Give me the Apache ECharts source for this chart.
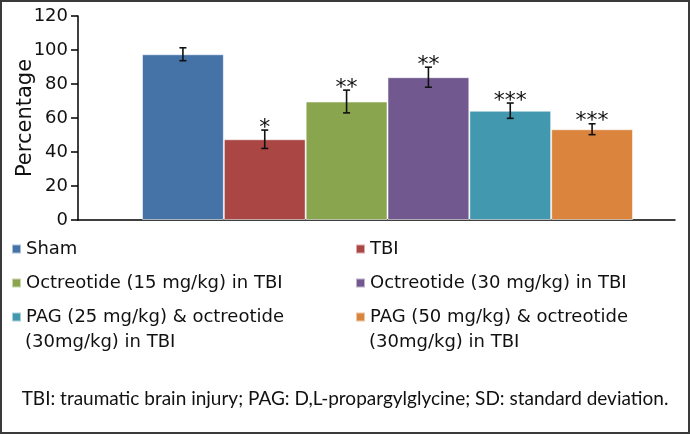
<!DOCTYPE html>
<html>
<head>
<meta charset="utf-8">
<script src="https://cdn.jsdelivr.net/npm/echarts@6/dist/echarts.min.js"></script>
<style>
  html, body { margin: 0; padding: 0; background: #fff; }
  #main { width: 690px; height: 434px; }
</style>
</head>
<body>
<div id="main"></div>
<script>
// groups, in the order the bars are drawn
var groups = [
  'Sham',
  'TBI',
  'Octreotide (15 mg/kg) in TBI',
  'Octreotide (30 mg/kg) in TBI',
  'PAG (25 mg/kg) & octreotide (30mg/kg) in TBI',
  'PAG (50 mg/kg) & octreotide (30mg/kg) in TBI'
];
// legend text is split on two lines for the long names
var legendLine1 = ['Sham', 'TBI', 'Octreotide (15 mg/kg) in TBI', 'Octreotide (30 mg/kg) in TBI',
  'PAG (25 mg/kg) & octreotide', 'PAG (50 mg/kg) & octreotide'];
var legendLine2 = ['', '', '', '', '(30mg/kg) in TBI', '(30mg/kg) in TBI'];
var means = [97.5, 47.5, 69.7, 84, 64.3, 53.4];
var sd = [3.8, 5.4, 6.7, 5.9, 4.5, 3.2];
var marks = ['', '*', '**', '**', '***', '***'];
var colors = ['#4572A7', '#AA4643', '#89A54E', '#71588F', '#4198AF', '#DB843D'];
var yMin = 0, yMax = 120, yStep = 20;
var footNote = 'TBI: traumatic brain injury; PAG: D,L-propargylglycine; SD: standard deviation.';

var font = 'DejaVu Sans';
var ink = '#111';
var myChart = echarts.init(document.getElementById('main'));

var series = groups.map(function (g, i) {
  return {
    name: g,
    type: 'bar',
    xAxisIndex: 1,
    yAxisIndex: 1,
    stack: 'one',
    barWidth: '100%',
    itemStyle: { color: colors[i], borderColor: 'rgba(255,255,255,0.55)', borderWidth: 1 },
    data: groups.map(function (x, j) { return j === i ? means[i] : '-'; })
  };
});

// error bars + significance stars
series.push({
  type: 'custom',
  xAxisIndex: 1,
  yAxisIndex: 1,
  z: 5,
  data: means.map(function (m, i) { return [i, m, sd[i]]; }),
  renderItem: function (params, api) {
    var i = api.value(0), m = api.value(1), s = api.value(2);
    var top = api.coord([i, m + s]);
    var bot = api.coord([i, m - s]);
    var x = top[0], w = 3.5;
    var st = { stroke: '#111', lineWidth: 1.6 };
    var kids = [
      { type: 'line', shape: { x1: x, y1: top[1], x2: x, y2: bot[1] }, style: st },
      { type: 'line', shape: { x1: x - w, y1: top[1], x2: x + w, y2: top[1] }, style: st },
      { type: 'line', shape: { x1: x - w, y1: bot[1], x2: x + w, y2: bot[1] }, style: st }
    ];
    if (marks[i]) {
      kids.push({
        type: 'text',
        style: {
          text: marks[i], x: x, y: top[1] + 9,
          align: 'center', verticalAlign: 'bottom',
          font: '22px "' + font + '"', fill: ink
        }
      });
    }
    return { type: 'group', children: kids };
  }
});

var colX = [11, 355];
var rowY = [239, 273, 307];
var legends = groups.map(function (g, i) {
  return {
    data: [g],
    left: colX[i % 2],
    top: rowY[Math.floor(i / 2)],
    icon: 'rect',
    itemWidth: 9,
    itemHeight: 9,
    selectedMode: false,
    padding: 0,
    formatter: function () { return legendLine1[i]; },
    textStyle: { fontFamily: font, fontSize: 18, lineHeight: 20, color: ink }
  };
});

var graphics = [
  { type: 'rect', shape: { x: 1, y: 1, width: 688, height: 432 },
    style: { fill: 'none', stroke: '#3a3a3a', lineWidth: 2 }, z: 100 },
  { type: 'text', left: 'center', top: 389,
    style: { text: footNote, font: '19px Lato', fill: ink } }
];
legendLine2.forEach(function (t, i) {
  if (!t) return;
  graphics.push({
    type: 'text', x: colX[i % 2] + 14, y: 342,
    style: { text: t, font: '18px "' + font + '"', fill: ink, verticalAlign: 'middle' }
  });
});

myChart.setOption({
  animation: false,
  grid: [
    { left: 78, right: 15, top: 16, bottom: 214 },
    { left: 142, right: 57, top: 16, bottom: 214 }
  ],
  xAxis: [
    { type: 'category', gridIndex: 0, data: [''],
      axisLine: { lineStyle: { color: '#000', width: 1.5 } },
      axisTick: { show: false }, axisLabel: { show: false } },
    { type: 'category', gridIndex: 1, data: groups, show: false }
  ],
  yAxis: [
    { type: 'value', gridIndex: 0, min: yMin, max: yMax, interval: yStep,
      name: 'Percentage', nameLocation: 'middle', nameGap: 42, nameMoveOverlap: false,
      nameTextStyle: { fontFamily: font, fontSize: 21, color: ink },
      axisLine: { show: true, lineStyle: { color: '#000', width: 1.5 } },
      axisTick: { show: true, length: 7, lineStyle: { color: '#000', width: 1.5 } },
      axisLabel: { margin: 10, fontFamily: font, fontSize: 18, color: ink },
      splitLine: { show: false } },
    { type: 'value', gridIndex: 1, min: yMin, max: yMax, interval: yStep, show: false,
      splitLine: { show: false } }
  ],
  legend: legends,
  graphic: graphics,
  series: series
});
</script>
</body>
</html>
